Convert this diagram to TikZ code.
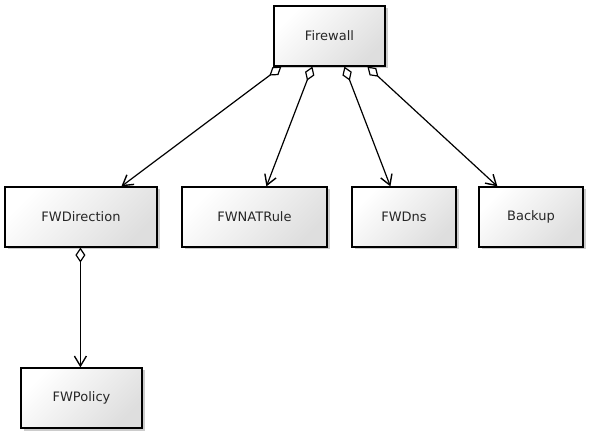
\documentclass[tikz,border=0pt]{standalone}
\usepackage{fontspec}
\setmainfont{DejaVu Sans}
\usetikzlibrary{arrows.meta,shadows}
\begin{document}
\begin{tikzpicture}[x=1pt,y=-1pt,
  cls/.style={draw=black,line width=1.2pt,minimum height=60pt,inner sep=0pt,
    top color=white,bottom color=black!13,shading angle=45,
    drop shadow={shadow xshift=2.5pt,shadow yshift=-2.5pt,opacity=0.2,fill=black},
    font=\fontsize{13}{15}\selectfont,text=black!85},
  agg/.style={line width=1.2pt,
    {Diamond[open,length=15pt,width=10pt,line width=1.2pt]}-{Straight Barb[length=10pt,width=12pt,line width=1.4pt]}}
]
\useasboundingbox (0,0) rectangle (589,435);
\node[cls,minimum width=111pt] (fw) at (329.5,36) {Firewall};
\node[cls,minimum width=152pt] (dir) at (81,217) {FWDirection};
\node[cls,minimum width=145pt] (nat) at (254.5,217) {FWNATRule};
\node[cls,minimum width=104pt] (dns) at (404,217) {FWDns};
\node[cls,minimum width=104pt] (bak) at (531,217) {Backup};
\node[cls,minimum width=121pt] (pol) at (81.5,398) {FWPolicy};
\draw[agg] ([xshift=8pt]fw.south west) -- ([xshift=117pt]dir.north west);
\draw[agg] ([xshift=39pt]fw.south west) -- ([xshift=85pt]nat.north west);
\draw[agg] ([xshift=71pt]fw.south west) -- ([xshift=39pt]dns.north west);
\draw[agg] ([xshift=94pt]fw.south west) -- ([xshift=19pt]bak.north west);
\draw[agg] ([xshift=76pt]dir.south west) -- ([xshift=60pt]pol.north west);
\end{tikzpicture}
\end{document}
